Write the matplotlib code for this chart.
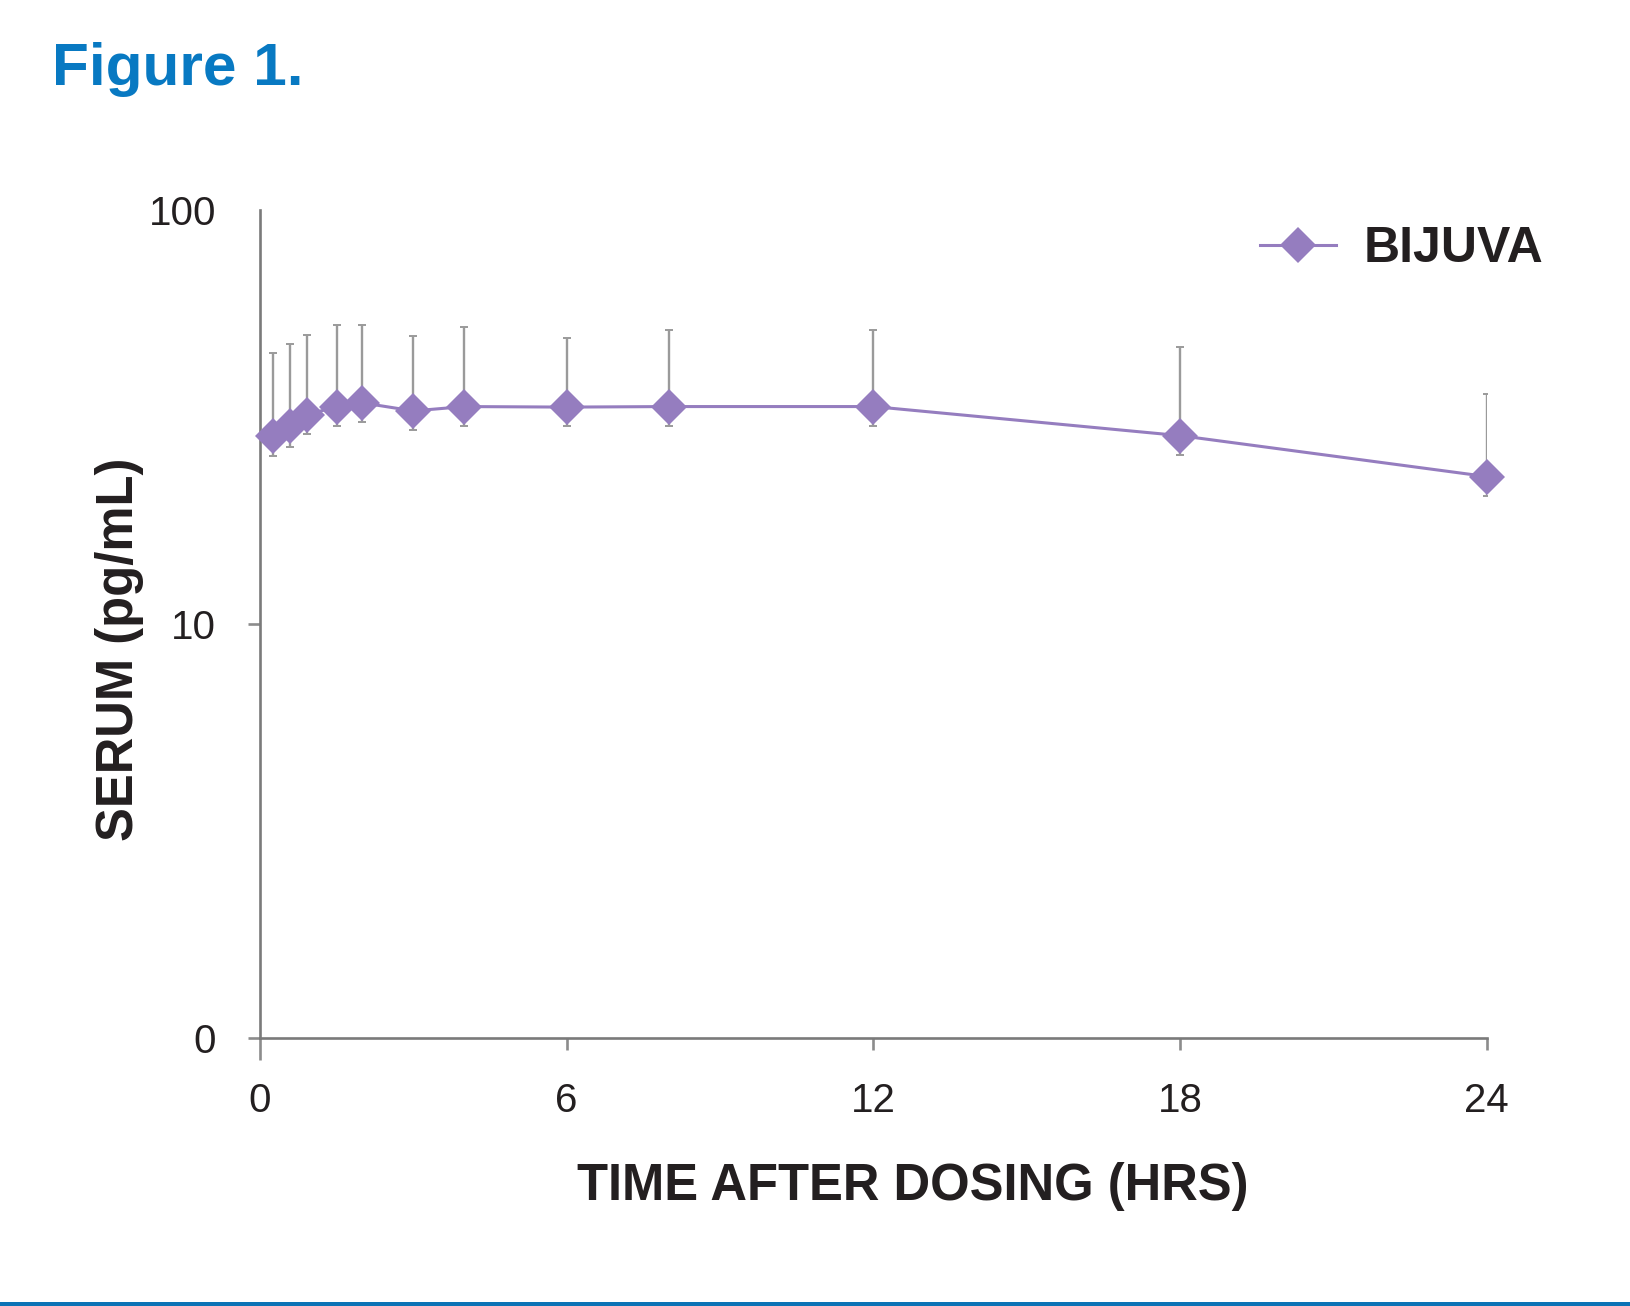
import matplotlib
matplotlib.use('Agg')
import matplotlib.pyplot as plt
from matplotlib.patches import Rectangle

# ---- data ----
time_hrs = [0.25, 0.58, 0.92, 1.5, 2, 3, 4, 6, 8, 12, 18, 24]
serum_mean = [28.4, 30.0, 32.0, 33.5, 34.2, 32.7, 33.5, 33.4, 33.5, 33.5, 28.5, 22.7]
serum_upper = [45.1, 47.5, 49.9, 52.8, 52.8, 49.7, 52.1, 49.0, 51.2, 51.4, 46.7, 36.0]
serum_lower = [25.4, 26.8, 28.8, 30.1, 30.8, 29.4, 30.1, 30.0, 30.1, 30.1, 25.6, 20.4]
series_name = 'BIJUVA'
x_ticks = [0, 6, 12, 18, 24]
y_ticks = [1, 10, 100]
y_tick_labels = ['0', '10', '100']
title_text = 'Figure 1.'
x_label = 'TIME AFTER DOSING (HRS)'
y_label = 'SERUM (pg/mL)'

plt.rcParams['font.family'] = ['Liberation Sans', 'DejaVu Sans']

W, H = 1630, 1306
fig = plt.figure(figsize=(W / 100, H / 100), dpi=100)
fig.patch.set_facecolor('white')

left, right, top, bottom = 260, 1486.5, 210, 1037.7
ax = fig.add_axes([left / W, 1 - bottom / H, (right - left) / W, (bottom - top) / H])

purple = '#957DBF'
text_col = '#231F20'
axis_col = '#7a7a7a'

err_lo = [m - l for m, l in zip(serum_mean, serum_lower)]
err_hi = [u - m for m, u in zip(serum_mean, serum_upper)]
ax.errorbar(time_hrs, serum_mean, yerr=[err_lo, err_hi], fmt='none',
            ecolor='#9a9a9a', elinewidth=1.7, capsize=3, capthick=1.4, zorder=2)
ax.plot(time_hrs, serum_mean, color=purple, lw=2.2, marker='D', markersize=18.5,
        markerfacecolor=purple, markeredgecolor=purple, markeredgewidth=0,
        label=series_name, zorder=3, clip_on=False)

ax.set_yscale('log')
ax.set_xlim(0, 24)
ax.set_ylim(1, 100)
ax.set_xticks(x_ticks)
ax.set_xticklabels([str(t) for t in x_ticks])
ax.set_yticks(y_ticks)
ax.set_yticklabels(y_tick_labels)
ax.yaxis.set_minor_locator(matplotlib.ticker.NullLocator())
ax.xaxis.set_minor_locator(matplotlib.ticker.NullLocator())

for s in ['top', 'right']:
    ax.spines[s].set_visible(False)
for s in ['left', 'bottom']:
    ax.spines[s].set_color(axis_col)
    ax.spines[s].set_linewidth(1.9)

ax.tick_params(axis='both', which='major', direction='out', length=8.6, width=1.9,
               color='#8c8c8c', labelsize=29, labelcolor=text_col, pad=23)
ax.yaxis.get_major_ticks()[2].tick1line.set_visible(False)
ax.xaxis.get_major_ticks()[0].tick1line.set_markersize(16)

# titles / labels
fig.text(52 / W, 1 - 85 / H, title_text, color='#0879C2', fontsize=43.5,
         fontweight='bold', ha='left', va='baseline')
fig.text(913 / W, 1 - 1200 / H, x_label, color=text_col, fontsize=36.5,
         fontweight='bold', ha='center', va='baseline')
fig.text(120 / W, 1 - 649 / H, y_label, color=text_col, fontsize=36.5,
         fontweight='bold', ha='center', va='center', rotation=90)

leg = fig.legend(loc='center left', bbox_to_anchor=(1260 / W, 1 - 249 / H),
                 frameon=False, fontsize=36, handlelength=1.52, handletextpad=0.56,
                 borderpad=0, borderaxespad=0, numpoints=1)
for t in leg.get_texts():
    t.set_fontweight('bold')
    t.set_color(text_col)

# bottom blue rule
fig.add_artist(Rectangle((0, 0), 1, 4.5 / H, transform=fig.transFigure,
                         color='#0B72B5', lw=0))

fig.savefig('out.png', dpi=100, facecolor='white')
